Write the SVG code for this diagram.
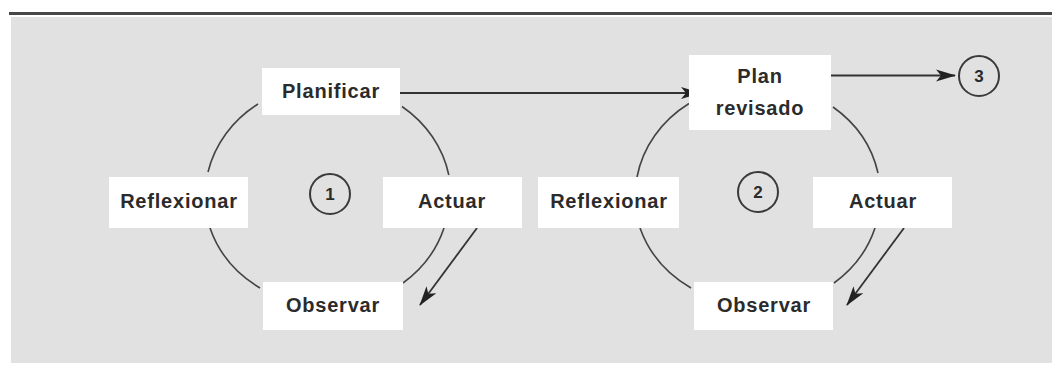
<svg xmlns="http://www.w3.org/2000/svg" width="1052" height="367" viewBox="0 0 1052 367">
<style>
  .box { fill: #ffffff; }
  .lbl { font-family: "Liberation Sans", Arial, sans-serif; font-weight: bold; font-size: 20px; letter-spacing: 0.8px; fill: #2b2b2b; text-anchor: middle; }
  .num { font-family: "Liberation Sans", Arial, sans-serif; font-weight: bold; font-size: 17px; fill: #2b2b2b; text-anchor: middle; }
  .ring { fill: none; stroke: #3a3a3a; stroke-width: 2; }
  .arc { fill: none; stroke: #444444; stroke-width: 1.6; }
  .arrow { fill: none; stroke: #333333; stroke-width: 1.8; marker-end: url(#head); }
</style>
<defs>
  <marker id="head" markerUnits="userSpaceOnUse" markerWidth="20" markerHeight="14" refX="19" refY="7" orient="auto">
    <path d="M0,1 L20,7 L0,13 L5,7 Z" fill="#222222"/>
  </marker>
</defs>
<rect x="0" y="0" width="1052" height="367" fill="#ffffff"/>
<rect x="11" y="17" width="1041" height="346" fill="#e1e1e1"/>
<line x1="9" y1="13.5" x2="1052" y2="13.5" stroke="#474747" stroke-width="3"/>

<g id="connectors">
  <!-- cycle 1 arcs -->
  <path class="arc" d="M258,104 A123,112 0 0 0 208,172"/>
  <path class="arc" d="M402,106.5 A123,112 0 0 1 448.8,175"/>
  <path class="arc" d="M210,228 A123,112 0 0 0 260,288"/>
  <path class="arc" d="M444,228 A123,112 0 0 1 403,283"/>
  <!-- cycle 2 arcs -->
  <path class="arc" d="M689,103.5 A123,112 0 0 0 637,177"/>
  <path class="arc" d="M833,107 A123,112 0 0 1 878,173"/>
  <path class="arc" d="M640,228 A123,112 0 0 0 691,288"/>
  <path class="arc" d="M875,228 A123,112 0 0 1 834,283"/>
  <!-- arrows -->
  <line class="arrow" x1="400" y1="93" x2="700" y2="93"/>
  <line class="arrow" x1="799" y1="75.5" x2="955" y2="75.5"/>
  <line class="arrow" x1="477" y1="228" x2="420" y2="305"/>
  <line class="arrow" x1="904" y1="228" x2="847" y2="305"/>
</g>

<g id="planificar">
  <rect class="box" x="262" y="68" width="138" height="47"/>
  <text class="lbl" x="331" y="98">Planificar</text>
</g>
<g id="reflexionar1">
  <rect class="box" x="109" y="177" width="139" height="51"/>
  <text class="lbl" x="179" y="208">Reflexionar</text>
</g>
<g id="actuar1">
  <rect class="box" x="383" y="177" width="139" height="51"/>
  <text class="lbl" x="452" y="208">Actuar</text>
</g>
<g id="observar1">
  <rect class="box" x="263" y="282" width="140" height="48"/>
  <text class="lbl" x="333" y="312">Observar</text>
</g>
<g id="ciclo1">
  <circle class="ring" cx="330" cy="194" r="20"/>
  <text class="num" x="330" y="200">1</text>
</g>

<g id="planrevisado">
  <rect class="box" x="689" y="55" width="142" height="75"/>
  <text class="lbl" x="760" y="83">Plan</text>
  <text class="lbl" x="760" y="115">revisado</text>
</g>
<g id="reflexionar2">
  <rect class="box" x="538" y="177" width="141" height="51"/>
  <text class="lbl" x="609" y="208">Reflexionar</text>
</g>
<g id="actuar2">
  <rect class="box" x="813" y="177" width="139" height="51"/>
  <text class="lbl" x="883" y="208">Actuar</text>
</g>
<g id="observar2">
  <rect class="box" x="694" y="282" width="139" height="48"/>
  <text class="lbl" x="764" y="312">Observar</text>
</g>
<g id="ciclo2">
  <circle class="ring" cx="758" cy="192" r="20"/>
  <text class="num" x="758" y="198">2</text>
</g>
<g id="ciclo3">
  <circle class="ring" cx="979" cy="76" r="20"/>
  <text class="num" x="979" y="82">3</text>
</g>
</svg>
